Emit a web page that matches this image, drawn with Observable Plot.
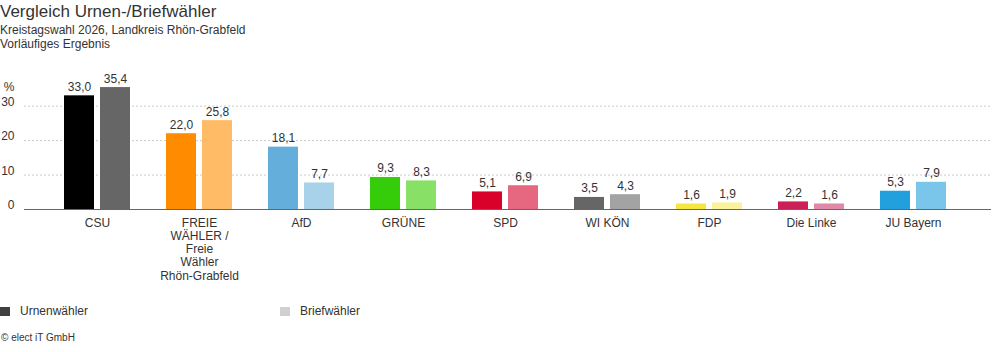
<!DOCTYPE html>
<html>
<head>
<meta charset="utf-8">
<script src="https://cdn.jsdelivr.net/npm/d3@7"></script>
<script src="https://cdn.jsdelivr.net/npm/@observablehq/plot@0.6"></script>
<style>
  html, body { margin: 0; padding: 0; background: #fff; }
  body { width: 992px; height: 352px; overflow: hidden; font-family: "Liberation Sans", Arial, sans-serif; color: #333; }
  #header { height: 60px; }
  #title { font-size: 17px; line-height: 20px; padding-top: 2px; margin-bottom: 2px; color: #333; }
  .sub { font-size: 12px; line-height: 13.5px; color: #333; }
  #chart { height: 235px; }
  #legend { position: relative; height: 30px; margin-top: 6px; font-size: 12px; }
  .item { position: absolute; top: 0; display: flex; align-items: center; height: 20px; }
  .sw { width: 10px; height: 9px; margin-right: 10px; }
  #caption { font-size: 10px; margin-top: 1px; padding-left: 1px; color: #333; }
</style>
</head>
<body>
<div id="header">
  <div id="title">Vergleich Urnen-/Briefwähler</div>
  <div class="sub">Kreistagswahl 2026, Landkreis Rhön-Grabfeld</div>
  <div class="sub">Vorläufiges Ergebnis</div>
</div>
<div id="chart"></div>
<div id="legend"></div>
<div id="caption">© elect iT GmbH</div>
<script>
const parties = ["CSU", "FREIE WÄHLER / Freie Wähler Rhön-Grabfeld", "AfD", "GRÜNE", "SPD", "WI KÖN", "FDP", "Die Linke", "JU Bayern"];
const partyLabels = ["CSU", "FREIE\nWÄHLER /\nFreie\nWähler\nRhön-Grabfeld", "AfD", "GRÜNE", "SPD", "WI KÖN", "FDP", "Die Linke", "JU Bayern"];
const urnen = [33.0, 22.0, 18.1, 9.3, 5.1, 3.5, 1.6, 2.2, 5.3];
const brief = [35.4, 25.8, 7.7, 8.3, 6.9, 4.3, 1.9, 1.6, 7.9];
const urnenColors = ["#000000", "#ff8c00", "#63aedb", "#35cc0a", "#d9002a", "#666666", "#f5e642", "#cc1f55", "#22a0dd"];
const briefColors = ["#666666", "#ffbb66", "#a8d2ea", "#88e066", "#e66880", "#a3a3a3", "#f9f29a", "#e088a8", "#7ac6ea"];
const yTicks = [0, 10, 20, 30];
const gridTicks = [10, 20, 30];
const yUnit = "%";
const seriesNames = ["Urnenwähler", "Briefwähler"];
const legendColors = ["#404040", "#d0d0d0"];

const uData = parties.map((p, i) => ({party: p, value: urnen[i], color: urnenColors[i]}));
const bData = parties.map((p, i) => ({party: p, value: brief[i], color: briefColors[i]}));
const labelOf = new Map(parties.map((p, i) => [p, partyLabels[i]]));
const fmt = v => v.toFixed(1).replace(".", ",");

const chart = Plot.plot({
  width: 992,
  height: 235,
  marginLeft: 24,
  marginRight: 1,
  marginTop: 25,
  marginBottom: 86,
  style: {fontFamily: "'Liberation Sans', Arial, sans-serif", fontSize: "12px", color: "#333", background: "#fff"},
  x: {type: "band", domain: parties, range: [24, 985], paddingInner: 0.353, paddingOuter: 0.387, label: null},
  y: {domain: [0, 36], label: null},
  marks: [
    Plot.ruleY(gridTicks, {stroke: "#cccccc", strokeDasharray: "2,2", strokeWidth: 1}),
    Plot.barY(uData, {x: "party", y: "value", fill: "color", insetLeft: 0, insetRight: 36}),
    Plot.barY(bData, {x: "party", y: "value", fill: "color", insetLeft: 36, insetRight: 0}),
    Plot.text(uData, {x: "party", y: "value", text: d => fmt(d.value), dx: -18, dy: -5, lineAnchor: "bottom", fill: "#333", fontSize: 12}),
    Plot.text(bData, {x: "party", y: "value", text: d => fmt(d.value), dx: 18, dy: -5, lineAnchor: "bottom", fill: "#333", fontSize: 12}),
    Plot.ruleY([0], {stroke: "#666666", strokeWidth: 1}),
    Plot.axisY({ticks: yTicks, tickSize: 0, tickPadding: 10, dy: -4, fill: "#333", fontSize: 12, label: null}),
    Plot.text([yUnit], {frameAnchor: "top-left", text: d => d, textAnchor: "end", lineAnchor: "middle", dx: -10, dy: 2, fill: "#333", fontSize: 12}),
    Plot.axisX({tickSize: 0, tickPadding: 8, tickFormat: d => labelOf.get(d), lineHeight: 1.1, fill: "#333", fontSize: 12, label: null})
  ]
});
document.getElementById("chart").appendChild(chart);

const legend = document.getElementById("legend");
const lx = [0, 280];
seriesNames.forEach((name, i) => {
  const item = document.createElement("div");
  item.className = "item";
  item.style.left = lx[i] + "px";
  const sw = document.createElement("span");
  sw.className = "sw";
  sw.style.background = legendColors[i];
  const t = document.createElement("span");
  t.textContent = name;
  item.appendChild(sw);
  item.appendChild(t);
  legend.appendChild(item);
});
</script>
</body>
</html>
